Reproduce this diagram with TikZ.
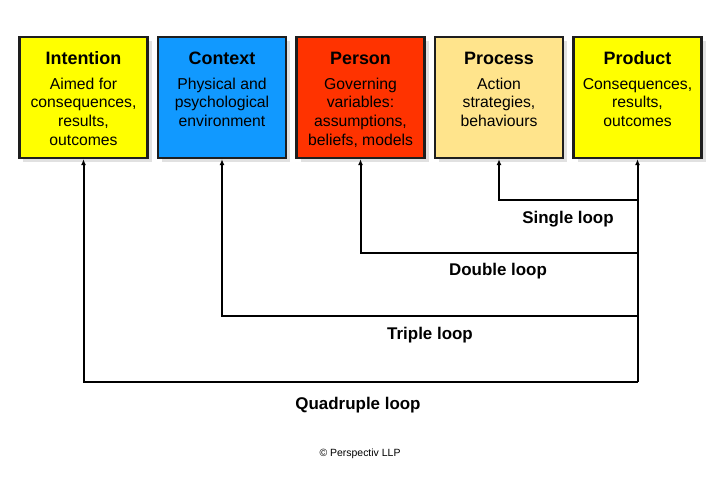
\documentclass[tikz,border=0pt]{standalone}
\usepackage{fontspec}
\setmainfont{Liberation Sans}
\usetikzlibrary{arrows.meta}
\definecolor{cyel}{RGB}{255,255,0}
\definecolor{cblue}{RGB}{17,153,255}
\definecolor{cred}{RGB}{255,51,0}
\definecolor{cpale}{RGB}{255,228,140}
\definecolor{cedge}{RGB}{30,30,30}
\definecolor{cshadow}{RGB}{225,225,225}
\tikzset{
  box/.style={draw=cedge, line width=2.4bp, minimum width=128bp, minimum height=121bp, inner sep=0pt},
  shadowbox/.style={fill=cshadow, minimum width=128bp, minimum height=121bp, inner sep=0pt},
  titletext/.style={anchor=base, inner sep=0pt, font=\fontsize{18}{21}\selectfont\bfseries},
  bodytext/.style={anchor=north, inner sep=0pt, align=center, font=\fontsize{15.8}{18.7}\selectfont},
  looplabel/.style={inner sep=0pt, font=\fontsize{17}{20}\selectfont\bfseries},
  conn/.style={draw=black, line width=2bp, -{Latex[length=6bp,width=5bp]}},
}
\newcommand{\fs}{\rule{0pt}{14bp}}
\begin{document}
\begin{tikzpicture}[x=1bp,y=-1bp]
\useasboundingbox (0,0) rectangle (720,480);
% shadows
\foreach \cx in {83.5,222,360.5,499,637.5}{
  \node[shadowbox] at (\cx+4,97.5+4) {};
}
% boxes
\node[box, fill=cyel] (intention) at (83.5,97.5) {};
\node[box, fill=cblue] (context) at (222,97.5) {};
\node[box, fill=cred] (person) at (360.5,97.5) {};
\node[box, fill=cpale] (process) at (499,97.5) {};
\node[box, fill=cyel] (product) at (637.5,97.5) {};
% titles
\node[titletext] (intentionT) at (83.5,65) {Intention};
\node[titletext] (contextT) at (222,65) {Context};
\node[titletext] (personT) at (360.5,65) {Person};
\node[titletext] (processT) at (499,65) {Process};
\node[titletext] (productT) at (637.5,65) {Product};
% bodies
\node[bodytext] (intentionB) at (83.5,75) {\fs Aimed for\\consequences,\\results,\\outcomes};
\node[bodytext] (contextB) at (222,75) {\fs Physical and\\psychological\\environment};
\node[bodytext] (personB) at (360.5,75) {\fs Governing\\variables:\\assumptions,\\beliefs, models};
\node[bodytext] (processB) at (499,75) {\fs Action\\strategies,\\behaviours};
\node[bodytext] (productB) at (637.5,75) {\fs Consequences,\\results,\\outcomes};
% loop coordinates on the product line
\coordinate (s1) at (637.5,200.5);
\coordinate (s2) at (637.5,253);
\coordinate (s3) at (637.5,316);
\coordinate (s4) at (637.5,382);
% connectors
\draw[conn] (s4) -- (product.south);
\draw[conn] (s1) -| (process.south);
\draw[conn] (s2) -| (person.south);
\draw[conn] (s3) -| (context.south);
\draw[conn] (s4) -| (intention.south);
% labels
\node[looplabel] (single) at (568,219.5) {Single loop};
\node[looplabel] (double) at (498,271.5) {Double loop};
\node[looplabel] (triple) at (430,335.5) {Triple loop};
\node[looplabel] (quad) at (358,405.5) {Quadruple loop};
\node[inner sep=0pt, font=\fontsize{10.5}{12}\selectfont] (copy) at (360,454) {© Perspectiv LLP};
\end{tikzpicture}
\end{document}
